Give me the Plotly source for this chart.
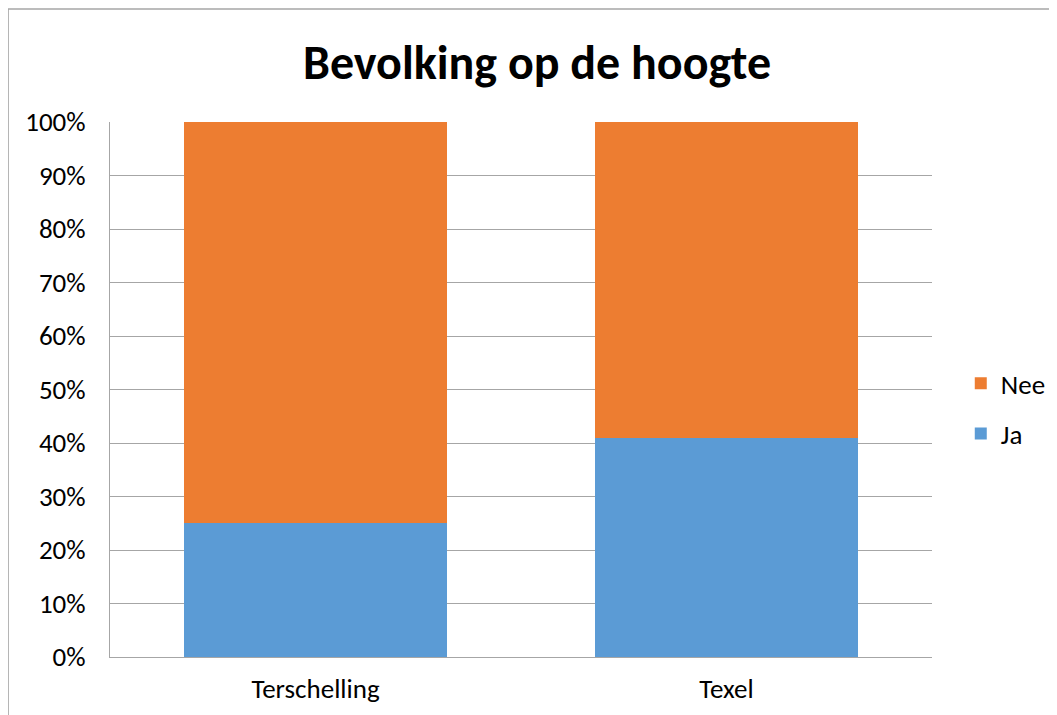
import plotly.graph_objects as go

categories = ["Terschelling", "Texel"]
ja_values = [25, 41]
nee_values = [75, 59]
tick_vals = [0, 10, 20, 30, 40, 50, 60, 70, 80, 90, 100]
tick_text = [f"{v}%" for v in tick_vals]

FONT = "Carlito, Calibri, 'Open Sans', 'Noto Sans', sans-serif"

fig = go.Figure()
fig.add_trace(go.Bar(x=categories, y=ja_values, name="Ja", marker_color="#5B9BD5",
                     marker_line_width=0, legendgroup="ja", legendrank=2))
fig.add_trace(go.Bar(x=categories, y=nee_values, name="Nee", marker_color="#ED7D31",
                     marker_line_width=0, legendgroup="nee", legendrank=1))

fig.update_layout(
    width=1057, height=715,
    margin=dict(l=102, r=133, t=114, b=66),
    paper_bgcolor="white", plot_bgcolor="white",
    barmode="stack", bargap=0.358,
    font=dict(family=FONT, size=27, color="#000000"),
    title=dict(text="<b>Bevolking op de hoogte</b>", x=0.5005, xanchor="center",
               y=0.9245, yanchor="middle", font=dict(size=48, family=FONT)),
    legend=dict(x=1.035, xanchor="left", y=0.464, yanchor="middle",
                traceorder="grouped", tracegroupgap=12,
                font=dict(size=27), itemwidth=30),
    xaxis=dict(showline=True, linecolor="#A6A6A6", linewidth=1, ticks="",
               tickfont=dict(size=27), ticklabelstandoff=8),
    yaxis=dict(range=[0, 100], tickvals=tick_vals, ticktext=tick_text,
               showgrid=True, gridcolor="#A6A6A6", gridwidth=1,
               showline=True, linecolor="#A6A6A6", linewidth=1,
               ticks="", ticklabelstandoff=18, zeroline=False,
               tickfont=dict(size=27)),
    shapes=[dict(type="rect", xref="paper", yref="paper",
                 x0=-0.124, x1=1.3, y0=-0.3, y1=1.211,
                 line=dict(color="#A6A6A6", width=1.5), fillcolor="rgba(0,0,0,0)",
                 layer="below")],
)

fig.write_html("out.html")
